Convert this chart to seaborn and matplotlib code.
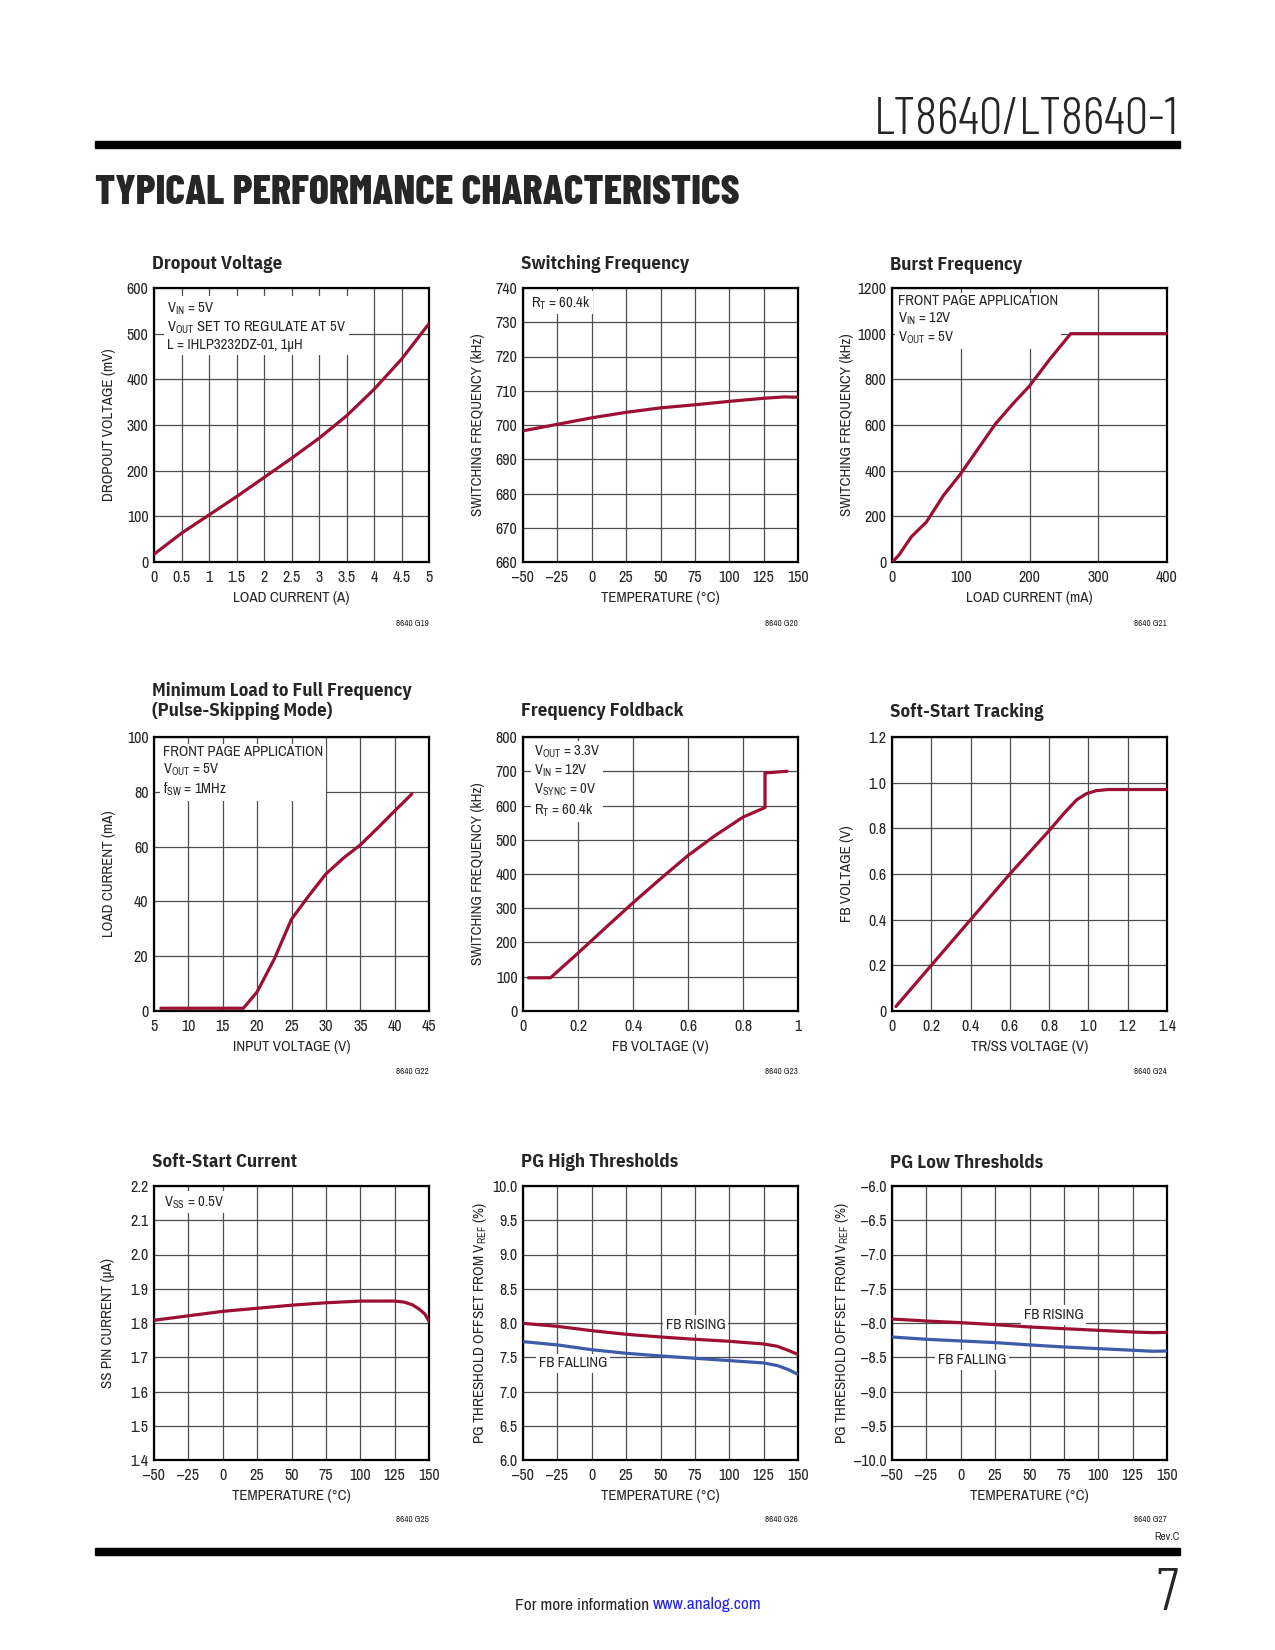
import seaborn as sns
import matplotlib.pyplot as plt
from matplotlib.patches import Rectangle

sns.set_theme(style='white')
SANS = ['Archivo Narrow', 'Liberation Sans', 'DejaVu Sans']
BOLD = ['IBM Plex Sans Condensed', 'Liberation Sans', 'DejaVu Sans']
DISPLAY = ['Barlow Condensed', 'Liberation Sans', 'DejaVu Sans']
plt.rcParams['font.family'] = SANS
plt.rcParams['mathtext.fontset'] = 'custom'
plt.rcParams['mathtext.rm'] = 'Archivo Narrow'

RED = '#9c1034'
BLUE = '#3d5ba9'
GRID = '#4d4d4d'

# ---- data ----
# G19 dropout voltage
dropout_a = [0, 0.5, 1, 1.5, 2, 2.5, 3, 3.5, 4, 4.5, 5]
dropout_mv = [17, 63, 103, 143, 185, 227, 271, 320, 378, 444, 522]

# G20 switching frequency vs temperature
sw_temp = [-50, -25, 0, 25, 50, 75, 100, 125, 140, 150]
sw_khz = [698.3, 700.2, 702.1, 703.7, 705.0, 705.9, 706.9, 707.8, 708.2, 708.1]

# G21 burst frequency
burst_ma = [0, 3, 10, 28, 50, 75, 100, 125, 150, 175, 200, 230, 260, 400]
burst_khz = [0, 8, 30, 110, 175, 292, 387, 495, 603, 690, 771, 890, 1000, 1000]

# G22 minimum load to full frequency
minload_vin = [6, 18, 20, 22.5, 25, 27.5, 30, 32.5, 35, 37.5, 40, 42.5]
minload_ma = [1, 1, 7, 19, 33.5, 42, 50, 55.7, 60.6, 66.7, 73, 79.2]

# G23 frequency foldback
fold_fb = [0.02, 0.1, 0.2, 0.3, 0.4, 0.5, 0.6, 0.7, 0.8, 0.88, 0.88, 0.96]
fold_khz = [97, 97, 169, 243, 316, 386, 454, 513, 566, 594, 695, 700]

# G24 soft-start tracking
track_ss = [0.02, 0.2, 0.4, 0.6, 0.8, 0.88, 0.94, 0.99, 1.04, 1.1, 1.2, 1.4]
track_fb = [0.02, 0.2, 0.4, 0.6, 0.79, 0.87, 0.925, 0.952, 0.965, 0.97, 0.97, 0.97]

# G25 soft-start current
ss_temp = [-50, -25, 0, 25, 50, 75, 100, 125, 132, 138, 143, 147, 150]
ss_ua = [1.808, 1.821, 1.834, 1.843, 1.852, 1.859, 1.864, 1.864, 1.861, 1.853, 1.840, 1.826, 1.805]

# G26 PG high thresholds
pgh_temp = [-50, -25, 0, 25, 50, 75, 100, 125, 135, 143, 150]
pgh_rising = [7.995, 7.951, 7.888, 7.835, 7.796, 7.762, 7.733, 7.694, 7.66, 7.60, 7.54]
pgh_falling = [7.728, 7.68, 7.61, 7.558, 7.519, 7.485, 7.451, 7.417, 7.379, 7.32, 7.25]

# G27 PG low thresholds
pgl_temp = [-50, -25, 0, 25, 50, 75, 100, 125, 140, 150]
pgl_rising = [-7.942, -7.971, -7.995, -8.024, -8.058, -8.083, -8.107, -8.131, -8.141, -8.136]
pgl_falling = [-8.204, -8.238, -8.262, -8.286, -8.32, -8.35, -8.374, -8.398, -8.413, -8.408]

# tick labels
temp_ticks = [-50, -25, 0, 25, 50, 75, 100, 125, 150]
temp_labels = ['–50', '–25', '0', '25', '50', '75', '100', '125', '150']

W, H = 1275, 1650
fig = plt.figure(figsize=(12.75, 16.5), dpi=100)


def box(left, top, width=275, height=274):
    return [left / W, 1 - (top + height) / H, width / W, height / H]


def setup(ax, xlim, ylim, xticks, xlabels, yticks, ylabels, xlabel, ylabel, ylab_off=45):
    ax.set_xlim(xlim)
    ax.set_ylim(ylim)
    ax.set_xticks(xticks, xlabels)
    ax.set_yticks(yticks, ylabels)
    ax.grid(True, color=GRID, lw=0.9)
    ax.tick_params(axis='x', length=0, labelsize=11.5, pad=5.5)
    ax.tick_params(axis='y', length=0, labelsize=11.5, pad=4)
    for s in ax.spines.values():
        s.set_color('black')
        s.set_linewidth(1.6)
    ax.set_xlabel(xlabel, fontsize=10.8, va='center')
    ax.xaxis.set_label_coords(0.5, -36 / 274)
    ax.set_ylabel(ylabel, fontsize=10.8, va='center')
    ax.yaxis.set_label_coords(-ylab_off / 275, 0.5)


def note(ax, x, y, s):
    ax.text(x, y, s, transform=ax.transAxes, fontsize=10.5, ha='left', va='top',
            linespacing=1.2, bbox=dict(facecolor='white', edgecolor='none', pad=2))


def label(ax, x, y, s):
    ax.text(x, y, s, fontsize=10.5, ha='center', va='center',
            bbox=dict(facecolor='white', edgecolor='none', pad=2))


def curve(ax, x, y, color=RED):
    sns.lineplot(x=x, y=y, ax=ax, color=color, lw=2.3, estimator=None, sort=False, zorder=4)


def title(left, y, s):
    fig.text((left - 2) / W, 1 - y / H, s, fontsize=13.5, fontweight='bold', family=BOLD,
             ha='left', va='center', linespacing=1.2)


def code(right, y, s):
    fig.text(right / W, 1 - y / H, s, fontsize=6.5, ha='right', va='center')


cols = [154, 523, 892]
rows = [288, 737, 1186]

# ---- row 1 ----
ax = fig.add_axes(box(cols[0], rows[0]))
curve(ax, dropout_a, dropout_mv)
setup(ax, (0, 5), (0, 600), [0, 0.5, 1, 1.5, 2, 2.5, 3, 3.5, 4, 4.5, 5],
      ['0', '0.5', '1', '1.5', '2', '2.5', '3', '3.5', '4', '4.5', '5'],
      range(0, 601, 100), [str(v) for v in range(0, 601, 100)],
      'LOAD CURRENT (A)', 'DROPOUT VOLTAGE (mV)')
note(ax, 0.047, 0.955, 'V$_\\mathregular{IN}$ = 5V\nV$_\\mathregular{OUT}$ SET TO REGULATE AT 5V\n'
     'L = IHLP3232DZ-01, 1µH')
title(cols[0], 264, 'Dropout Voltage')
code(cols[0] + 275, rows[0] + 335, '8640 G19')

ax = fig.add_axes(box(cols[1], rows[0]))
curve(ax, sw_temp, sw_khz)
setup(ax, (-50, 150), (660, 740), temp_ticks, temp_labels,
      range(660, 741, 10), [str(v) for v in range(660, 741, 10)],
      'TEMPERATURE (°C)', 'SWITCHING FREQUENCY (kHz)')
note(ax, 0.028, 0.978, 'R$_\\mathregular{T}$ = 60.4k')
title(cols[1], 264, 'Switching Frequency')
code(cols[1] + 275, rows[0] + 335, '8640 G20')

ax = fig.add_axes(box(cols[2], rows[0]))
curve(ax, burst_ma, burst_khz)
setup(ax, (0, 400), (0, 1200), range(0, 401, 100), [str(v) for v in range(0, 401, 100)],
      range(0, 1201, 200), [str(v) for v in range(0, 1201, 200)],
      'LOAD CURRENT (mA)', 'SWITCHING FREQUENCY (kHz)')
note(ax, 0.022, 0.978, 'FRONT PAGE APPLICATION\nV$_\\mathregular{IN}$ = 12V\nV$_\\mathregular{OUT}$ = 5V')
title(cols[2], 265, 'Burst Frequency')
code(cols[2] + 275, rows[0] + 335, '8640 G21')

# ---- row 2 ----
ax = fig.add_axes(box(cols[0], rows[1]))
curve(ax, minload_vin, minload_ma)
setup(ax, (5, 45), (0, 100), range(5, 46, 5), [str(v) for v in range(5, 46, 5)],
      range(0, 101, 20), [str(v) for v in range(0, 101, 20)],
      'INPUT VOLTAGE (V)', 'LOAD CURRENT (mA)')
note(ax, 0.033, 0.972, 'FRONT PAGE APPLICATION\nV$_\\mathregular{OUT}$ = 5V\nf$_\\mathregular{SW}$ = 1MHz')
title(cols[0], 701, 'Minimum Load to Full Frequency\n(Pulse-Skipping Mode)')
code(cols[0] + 275, rows[1] + 335, '8640 G22')

ax = fig.add_axes(box(cols[1], rows[1]))
curve(ax, fold_fb, fold_khz)
setup(ax, (0, 1), (0, 800), [0, 0.2, 0.4, 0.6, 0.8, 1], ['0', '0.2', '0.4', '0.6', '0.8', '1'],
      range(0, 801, 100), [str(v) for v in range(0, 801, 100)],
      'FB VOLTAGE (V)', 'SWITCHING FREQUENCY (kHz)')
note(ax, 0.04, 0.976, 'V$_\\mathregular{OUT}$ = 3.3V\nV$_\\mathregular{IN}$ = 12V\n'
     'V$_\\mathregular{SYNC}$ = 0V\nR$_\\mathregular{T}$ = 60.4k')
title(cols[1], 711, 'Frequency Foldback')
code(cols[1] + 275, rows[1] + 335, '8640 G23')

ax = fig.add_axes(box(cols[2], rows[1]))
curve(ax, track_ss, track_fb)
setup(ax, (0, 1.4), (0, 1.2), [0, 0.2, 0.4, 0.6, 0.8, 1.0, 1.2, 1.4],
      ['0', '0.2', '0.4', '0.6', '0.8', '1.0', '1.2', '1.4'],
      [0, 0.2, 0.4, 0.6, 0.8, 1.0, 1.2], ['0', '0.2', '0.4', '0.6', '0.8', '1.0', '1.2'],
      'TR/SS VOLTAGE (V)', 'FB VOLTAGE (V)')
title(cols[2], 712, 'Soft-Start Tracking')
code(cols[2] + 275, rows[1] + 335, '8640 G24')

# ---- row 3 ----
ax = fig.add_axes(box(cols[0], rows[2]))
curve(ax, ss_temp, ss_ua)
ss_ticks = [1.4, 1.5, 1.6, 1.7, 1.8, 1.9, 2.0, 2.1, 2.2]
setup(ax, (-50, 150), (1.4, 2.2), temp_ticks, temp_labels,
      ss_ticks, [f'{v:.1f}' for v in ss_ticks],
      'TEMPERATURE (°C)', 'SS PIN CURRENT (µA)', ylab_off=46)
note(ax, 0.036, 0.971, 'V$_\\mathregular{SS}$ = 0.5V')
title(cols[0], 1162, 'Soft-Start Current')
code(cols[0] + 275, rows[2] + 334, '8640 G25')

ax = fig.add_axes(box(cols[1], rows[2]))
curve(ax, pgh_temp, pgh_rising)
curve(ax, pgh_temp, pgh_falling, BLUE)
hi_ticks = [6.0, 6.5, 7.0, 7.5, 8.0, 8.5, 9.0, 9.5, 10.0]
setup(ax, (-50, 150), (6, 10), temp_ticks, temp_labels,
      hi_ticks, [f'{v:.1f}' for v in hi_ticks],
      'TEMPERATURE (°C)', 'PG THRESHOLD OFFSET FROM V$_\\mathregular{REF}$ (%)', ylab_off=43)
label(ax, 75.6, 7.976, 'FB RISING')
label(ax, -13.6, 7.41, 'FB FALLING')
title(cols[1], 1162, 'PG High Thresholds')
code(cols[1] + 275, rows[2] + 334, '8640 G26')

ax = fig.add_axes(box(cols[2], rows[2]))
curve(ax, pgl_temp, pgl_rising)
curve(ax, pgl_temp, pgl_falling, BLUE)
lo_ticks = [-10.0, -9.5, -9.0, -8.5, -8.0, -7.5, -7.0, -6.5, -6.0]
setup(ax, (-50, 150), (-10, -6), temp_ticks, temp_labels,
      lo_ticks, [f'{v:.1f}'.replace('-', '–') for v in lo_ticks],
      'TEMPERATURE (°C)', 'PG THRESHOLD OFFSET FROM V$_\\mathregular{REF}$ (%)', ylab_off=50)
label(ax, 67.6, -7.883, 'FB RISING')
label(ax, 8.1, -8.544, 'FB FALLING')
title(cols[2], 1163, 'PG Low Thresholds')
code(cols[2] + 275, rows[2] + 334, '8640 G27')

# ---- page furniture ----
fig.text(1178 / W, 1 - 121 / H, 'LT8640/LT8640-1', fontsize=38, fontweight=300, family=DISPLAY,
         ha='right', va='center')
fig.add_artist(Rectangle((95 / W, 1 - 148 / H), 1085 / W, 7 / H,
                         transform=fig.transFigure, color='black'))
fig.text(95 / W, 1 - 193 / H, 'TYPICAL PERFORMANCE CHARACTERISTICS', fontsize=30,
         fontweight=800, family=DISPLAY, ha='left', va='center')
fig.add_artist(Rectangle((95 / W, 1 - 1555 / H), 1085 / W, 7 / H,
                         transform=fig.transFigure, color='black'))
fig.text(1180 / W, 1 - 1537 / H, 'Rev.C', fontsize=8, ha='right', va='center')
fig.text(1178 / W, 1 - 1595 / H, '7', fontsize=44, fontweight=300, family=DISPLAY,
         ha='right', va='center')
fig.text(649 / W, 1 - 1605 / H, 'For more information', fontsize=12.5, ha='right', va='center')
fig.text(653 / W, 1 - 1605 / H, 'www.analog.com', fontsize=12.5, ha='left', va='center',
         color='#2323e6')

fig.savefig('out.png', dpi=100)
